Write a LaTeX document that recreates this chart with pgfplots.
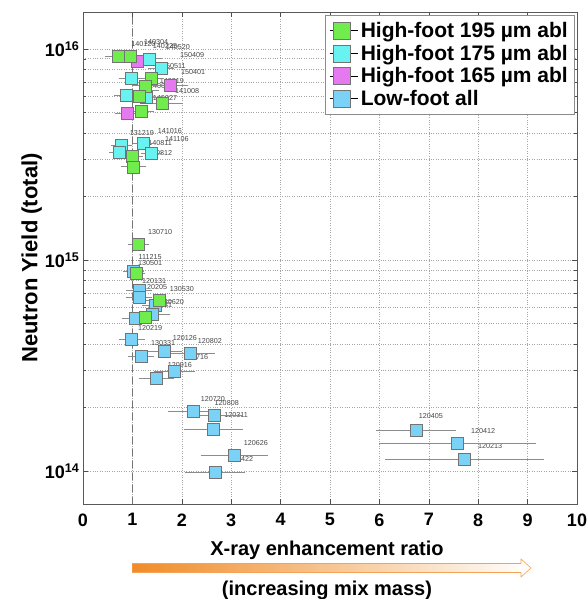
\documentclass[border=0pt]{standalone}
\usepackage{pgfplots}
\pgfplotsset{compat=1.18}
\usepackage{fontspec}
\setmainfont{Liberation Sans}
\definecolor{cgreen}{RGB}{112,236,76}
\definecolor{ccyan}{RGB}{104,242,240}
\definecolor{cmag}{RGB}{230,120,240}
\definecolor{cblue}{RGB}{122,210,246}
\definecolor{corange}{RGB}{240,140,40}
\definecolor{lblgray}{RGB}{70,70,70}
\tikzset{lbl/.style={font=\fontsize{7.2}{8}\selectfont, text=lblgray, inner sep=0pt}}
\pgfplotsset{pt/.style={only marks, mark=square*, mark size=6pt,
    mark options={draw=black!55, line width=0.5pt, fill=#1},
    error bars/.cd, x dir=both, x explicit,
    error bar style={black!45, line width=0.7pt},
    error mark options={black!45, mark size=3pt, line width=0.7pt}}}
\begin{document}
\begin{tikzpicture}
\path[use as bounding box] (-83pt,-95pt) rectangle (505pt,504pt);
\begin{axis}[
  at={(0pt,0pt)}, anchor=south west,
  width=494pt, height=492pt, scale only axis,
  xmin=0, xmax=10, ymode=log, ymin=7e13, ymax=1.5e16,
  xtick={0,1,...,10},
  ytick={1e14,1e15,1e16},
  yticklabels={10\textsuperscript{14},10\textsuperscript{15},10\textsuperscript{16}},
  /pgf/number format/assume math mode=true,
  ticklabel style={font=\fontsize{18}{20}\selectfont\bfseries},
  xticklabel style={yshift=-6pt},
  tick align=inside,
  major tick length=5pt, minor tick length=3pt,
  tick style={black!70, line width=0.5pt},
  axis line style={black!65, line width=0.7pt},
  grid=both,
  xmajorgrids=true, xminorgrids=false,
  ymajorgrids=true, yminorgrids=true,
  major grid style={black!35, dotted, line width=0.6pt},
  minor grid style={black!35, dotted, line width=0.6pt},
  ylabel={Neutron Yield (total)},
  ylabel style={font=\fontsize{22}{26}\selectfont\bfseries, yshift=-4pt},
  legend style={at={(rel axis cs:0.996,0.994)}, anchor=north east, draw=black!45, fill=white,
    font=\fontsize{21}{25}\selectfont\bfseries, row sep=2pt, inner sep=5pt, line width=0.6pt},
  legend image code/.code={\path (0pt,0pt) -- (28pt,0pt);
    \draw[#1, mark size=8.5pt] plot coordinates {(11.5pt,0pt)};},
  legend cell align=left,
  reverse legend,
]
% dashed reference line at ratio = 1
\addplot[forget plot, black!55, line width=1pt, dash pattern=on 7pt off 5pt] coordinates {(1,7e13) (1,1.5e16)};

% shot labels
\node[lbl] at (axis cs:1.22,1.06e16) {140120};
\node[lbl] at (axis cs:1.48,1.075e16) {140304};
\node[lbl] at (axis cs:1.66,1.03e16) {140225};
\node[lbl] at (axis cs:1.92,1.02e16) {140520};
\node[lbl] at (axis cs:2.21,9.34e15) {150409};
\node[lbl] at (axis cs:1.84,8.28e15) {150511};
\node[lbl] at (axis cs:2.23,7.76e15) {150401};
\node[lbl] at (axis cs:1.80,7.05e15) {140819};
\node[lbl] at (axis cs:1.58,6.70e15) {140625};
\node[lbl] at (axis cs:2.11,6.31e15) {141008};
\node[lbl] at (axis cs:1.66,5.85e15) {140927};
\node[lbl] at (axis cs:1.19,4.00e15) {131219};
\node[lbl] at (axis cs:1.76,4.08e15) {141016};
\node[lbl] at (axis cs:1.90,3.74e15) {141106};
\node[lbl] at (axis cs:1.56,3.59e15) {140811};
\node[lbl] at (axis cs:1.56,3.21e15) {130812};
\node[lbl] at (axis cs:1.56,1.36e15) {130710};
\node[lbl] at (axis cs:1.36,1.04e15) {111215};
\node[lbl] at (axis cs:1.36,9.70e14) {130501};
\node[lbl] at (axis cs:1.44,8.00e14) {120131};
\node[lbl] at (axis cs:1.46,7.49e14) {120205};
\node[lbl] at (axis cs:2.00,7.33e14) {130530};
\node[lbl] at (axis cs:1.80,6.36e14) {130620};
\node[lbl] at (axis cs:1.56,6.15e14) {120321};
\node[lbl] at (axis cs:1.36,4.79e14) {120219};
\node[lbl] at (axis cs:2.06,4.30e14) {120126};
\node[lbl] at (axis cs:2.57,4.16e14) {120802};
\node[lbl] at (axis cs:1.62,4.03e14) {130331};
\node[lbl] at (axis cs:2.29,3.46e14) {120716};
\node[lbl] at (axis cs:1.96,3.17e14) {120916};
\node[lbl] at (axis cs:2.63,2.19e14) {120720};
\node[lbl] at (axis cs:2.91,2.10e14) {120808};
\node[lbl] at (axis cs:3.10,1.84e14) {120311};
\node[lbl] at (axis cs:3.50,1.36e14) {120626};
\node[lbl] at (axis cs:3.20,1.14e14) {120422};
\node[lbl] at (axis cs:7.04,1.82e14) {120405};
\node[lbl] at (axis cs:8.10,1.55e14) {120412};
\node[lbl] at (axis cs:8.24,1.31e14) {120213};

% Low-foot all
\addplot[pt=cblue] table[x=x, y=y, x error=e] {
x y e
1.02 8.85e14 0.15
1.14 7.20e14 0.20
1.14 6.70e14 0.20
1.46 6.10e14 0.20
1.41 5.52e14 0.30
1.05 5.33e14 0.20
0.985 4.21e14 0.20
1.64 3.71e14 0.30
1.17 3.51e14 0.20
2.18 3.61e14 0.43
1.85 2.98e14 0.35
1.49 2.75e14 0.30
2.23 1.93e14 0.45
2.66 1.85e14 0.50
2.64 1.58e14 0.54
3.06 1.19e14 0.62
2.67 9.93e13 0.54
6.74 1.56e14 0.75
7.58 1.35e14 1.52
7.72 1.14e14 1.55
};
\addlegendentry{Low-foot all}
% High-foot 165
\addplot[pt=cmag] table[x=x, y=y, x error=e] {
x y e
1.10 8.78e15 0.20
1.77 6.74e15 0.30
1.27 6.38e15 0.20
0.90 4.95e15 0.20
};
\addlegendentry{High-foot 165 µm abl}
% High-foot 175
\addplot[pt=ccyan] table[x=x, y=y, x error=e] {
x y e
1.34 9.00e15 0.20
1.58 8.10e15 0.20
0.985 7.30e15 0.20
0.88 6.04e15 0.20
1.29 5.90e15 0.20
0.78 3.51e15 0.15
0.74 3.24e15 0.15
1.22 3.58e15 0.15
1.38 3.21e15 0.15
};
\addlegendentry{High-foot 175 µm abl}
% High-foot 195
\addplot[pt=cgreen] table[x=x, y=y, x error=e] {
x y e
0.71 9.25e15 0.20
0.95 9.30e15 0.15
1.38 7.30e15 0.20
1.26 6.70e15 0.20
1.14 6.00e15 0.15
1.61 5.52e15 0.35
1.17 5.08e15 0.20
1.00 3.11e15 0.15
1.02 2.77e15 0.20
1.12 1.19e15 0.15
1.07 8.63e14 0.12
1.54 6.46e14 0.20
1.26 5.36e14 0.20
};
\addlegendentry{High-foot 195 µm abl}
\end{axis}
% arrow and bottom labels
\node[font=\fontsize{20}{24}\selectfont\bfseries] at (244pt,-46pt) {X-ray enhancement ratio};
\shade[left color=corange, right color=white]
  (49.4pt,-68.5pt) -- (438pt,-68.5pt) -- (438pt,-73pt) -- (448pt,-64pt) -- (438pt,-55pt) -- (438pt,-59.5pt) -- (49.4pt,-59.5pt) -- cycle;
\draw[corange!80, line width=0.6pt]
  (49.4pt,-68.5pt) -- (438pt,-68.5pt) -- (438pt,-73pt) -- (448pt,-64pt) -- (438pt,-55pt) -- (438pt,-59.5pt) -- (49.4pt,-59.5pt) -- cycle;
\node[font=\fontsize{20}{24}\selectfont\bfseries] at (244pt,-86pt) {(increasing mix mass)};
\end{tikzpicture}
\end{document}
